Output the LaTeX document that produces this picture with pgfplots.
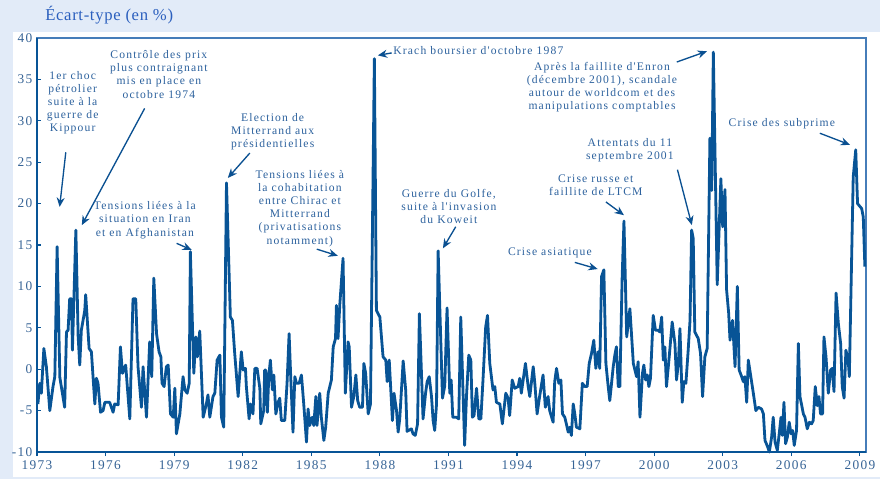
\documentclass[border=0pt]{standalone}
\usepackage{fontspec}
\setmainfont{Liberation Serif}
\newfontfamily\annfont[LetterSpace=10]{Liberation Serif}
\newfontfamily\titlefam[LetterSpace=4]{Liberation Serif}
\usepackage{pgfplots}
\pgfplotsset{compat=1.18}
\usetikzlibrary{arrows.meta}
\definecolor{bgblue}{RGB}{226,235,248}
\definecolor{lineblue}{RGB}{8,84,150}
\definecolor{textblue}{RGB}{45,98,158}
\definecolor{tickblue}{RGB}{55,100,150}
\definecolor{titleblue}{RGB}{43,95,190}
\definecolor{frameblue}{RGB}{70,125,185}
\definecolor{arrowblue}{RGB}{10,80,145}
\pgfplotstableread{
x y
1973.04 -4.2
1973.12 -1.7
1973.19 -2.9
1973.30 2.5
1973.41 0.3
1973.56 -5.0
1973.70 -2.1
1973.78 -0.9
1973.88 14.8
1974.00 -1.0
1974.21 -4.6
1974.29 4.5
1974.36 4.7
1974.43 8.5
1974.51 8.5
1974.55 2.3
1974.70 16.8
1974.80 4.0
1974.87 0.5
1974.94 4.7
1975.09 7.1
1975.13 9.0
1975.28 2.5
1975.38 2.1
1975.53 -4.2
1975.60 -1.1
1975.67 -1.7
1975.78 -5.2
1975.89 -5.0
1975.97 -4.0
1976.18 -4.0
1976.33 -5.2
1976.40 -4.2
1976.55 -4.3
1976.65 2.7
1976.74 -0.5
1976.88 0.5
1977.06 -6.0
1977.20 8.5
1977.32 8.5
1977.42 0.3
1977.57 -4.6
1977.64 0.3
1977.79 -5.8
1977.93 3.3
1978.02 -0.9
1978.11 11.0
1978.23 4.3
1978.34 2.1
1978.42 1.5
1978.47 -1.7
1978.56 -2.1
1978.66 0.3
1978.74 0.5
1978.84 -5.4
1978.96 -5.8
1979.03 -2.3
1979.10 -7.8
1979.25 -5.4
1979.39 -0.9
1979.47 -2.5
1979.57 -2.9
1979.66 -1.7
1979.71 14.2
1979.86 -0.5
1979.95 3.9
1980.02 1.5
1980.12 4.6
1980.27 -5.8
1980.41 -4.2
1980.48 -3.1
1980.56 -5.8
1980.70 -3.3
1980.78 -2.9
1980.88 1.1
1981.00 1.7
1981.07 -5.8
1981.17 -7.0
1981.29 22.5
1981.46 6.3
1981.55 5.9
1981.65 1.9
1981.80 -3.3
1981.94 2.1
1982.02 -0.1
1982.12 0.1
1982.16 -2.1
1982.28 -6.0
1982.34 -4.2
1982.45 -5.4
1982.53 0.1
1982.63 0.1
1982.75 -2.3
1982.79 -6.6
1982.92 -5.0
1982.96 -0.1
1983.01 -0.1
1983.08 -5.2
1983.14 -0.9
1983.21 1.1
1983.30 -2.5
1983.36 -0.7
1983.45 -5.4
1983.55 -4.0
1983.62 -3.5
1983.69 -6.2
1983.84 -6.2
1983.94 -1.7
1984.03 4.3
1984.10 -0.9
1984.20 -7.6
1984.28 -0.9
1984.35 -1.7
1984.47 -1.7
1984.57 -0.7
1984.67 -4.2
1984.79 -8.8
1984.86 -4.8
1984.93 -6.8
1985.04 -5.8
1985.11 -6.8
1985.20 -3.3
1985.25 -6.8
1985.37 -2.9
1985.44 -5.8
1985.55 -8.6
1985.63 -7.0
1985.74 -2.9
1985.88 -1.3
1985.96 2.7
1986.06 3.7
1986.10 7.7
1986.17 3.7
1986.25 7.9
1986.39 13.4
1986.49 -2.9
1986.61 3.3
1986.66 2.7
1986.76 -4.6
1986.86 -3.3
1986.95 -0.7
1987.03 -3.8
1987.12 -4.6
1987.24 -4.6
1987.30 0.7
1987.38 -0.5
1987.49 -5.4
1987.59 -4.2
1987.76 37.5
1987.85 7.1
1988.00 6.3
1988.14 1.5
1988.26 1.1
1988.32 -1.5
1988.41 1.1
1988.55 -6.2
1988.62 -2.9
1988.73 -5.0
1988.80 -7.6
1988.87 -6.0
1989.02 1.0
1989.13 -2.5
1989.19 -7.5
1989.38 -7.2
1989.45 -7.8
1989.55 -8.0
1989.65 -6.6
1989.73 6.7
1989.89 -6.0
1990.00 -2.9
1990.07 -1.5
1990.16 -0.9
1990.26 -3.3
1990.33 -6.2
1990.40 -7.4
1990.48 -4.2
1990.55 14.3
1990.74 -3.5
1990.84 -2.0
1990.94 7.4
1991.06 -2.9
1991.12 -1.3
1991.19 -5.8
1991.35 -5.8
1991.45 -6.0
1991.54 6.3
1991.71 -9.2
1991.79 -3.3
1991.89 1.7
1991.98 1.1
1992.05 -5.8
1992.12 -5.6
1992.23 -2.3
1992.33 -6.0
1992.42 -6.0
1992.52 -0.9
1992.63 5.1
1992.71 6.5
1992.81 0.7
1992.95 -2.5
1993.03 -2.1
1993.10 -4.0
1993.25 -4.2
1993.36 -6.6
1993.51 -2.9
1993.61 -3.5
1993.68 -5.6
1993.79 -1.3
1993.90 -2.3
1994.05 -2.1
1994.12 -1.1
1994.19 -2.9
1994.37 0.7
1994.49 -2.1
1994.56 -3.3
1994.71 0.3
1994.78 -1.7
1994.88 -5.4
1994.99 -3.3
1995.14 -0.7
1995.24 -4.6
1995.36 -3.3
1995.43 -5.0
1995.58 -6.4
1995.65 -1.5
1995.73 0.1
1995.83 -1.7
1995.92 -1.3
1995.99 -5.4
1996.09 -5.8
1996.16 -6.6
1996.24 -7.6
1996.31 -7.0
1996.38 -8.0
1996.46 -4.2
1996.53 -5.4
1996.60 -7.0
1996.75 -7.2
1996.86 -1.7
1996.97 -2.1
1997.07 -2.1
1997.16 0.7
1997.26 1.9
1997.36 3.5
1997.45 0.1
1997.55 2.1
1997.62 0.1
1997.70 11.2
1997.80 12.0
1997.89 0.7
1997.99 -2.1
1998.06 -3.8
1998.21 0.3
1998.28 1.7
1998.35 2.7
1998.43 -2.1
1998.50 -2.1
1998.60 11.0
1998.68 17.9
1998.80 3.9
1998.94 7.3
1999.09 0.7
1999.23 -0.9
1999.30 0.9
1999.38 -5.8
1999.49 -0.5
1999.55 0.5
1999.63 -1.3
1999.70 -0.7
1999.77 -2.1
1999.84 -1.1
1999.96 6.5
2000.06 4.7
2000.18 4.7
2000.25 4.5
2000.33 6.3
2000.40 1.1
2000.47 2.7
2000.54 -2.1
2000.66 1.5
2000.79 5.7
2000.91 3.1
2000.98 -1.3
2001.06 0.7
2001.13 4.9
2001.23 -4.0
2001.30 -1.5
2001.39 -1.7
2001.49 2.3
2001.57 5.9
2001.64 16.8
2001.71 15.8
2001.78 4.5
2001.93 3.7
2002.03 1.9
2002.12 -3.3
2002.22 1.5
2002.32 2.5
2002.44 27.9
2002.52 21.6
2002.59 38.3
2002.76 10.2
2002.92 23.0
2003.00 17.2
2003.10 21.7
2003.17 9.6
2003.26 6.8
2003.32 3.5
2003.43 5.9
2003.54 0.3
2003.64 10.0
2003.72 -0.1
2003.83 -0.9
2003.90 -1.5
2003.97 -0.9
2004.05 -4.0
2004.12 1.1
2004.22 -0.7
2004.34 -2.9
2004.45 -5.0
2004.56 -4.6
2004.70 -4.8
2004.78 -5.4
2004.85 -8.6
2004.97 -9.4
2005.04 -10.0
2005.14 -8.2
2005.21 -5.8
2005.29 -8.8
2005.39 -9.8
2005.48 -7.6
2005.55 -5.8
2005.61 -8.0
2005.68 -4.0
2005.75 -9.0
2005.83 -8.2
2005.91 -6.4
2005.99 -7.8
2006.06 -7.4
2006.13 -9.2
2006.23 -7.4
2006.31 3.1
2006.38 -3.3
2006.53 -5.4
2006.60 -5.8
2006.70 -7.2
2006.79 -6.4
2006.89 -6.6
2006.96 -6.2
2007.05 -2.1
2007.14 -4.4
2007.21 -3.3
2007.28 -5.4
2007.37 -5.4
2007.43 3.9
2007.52 1.5
2007.62 -2.9
2007.72 -0.1
2007.79 0.1
2007.87 -2.7
2007.96 9.2
2008.06 5.5
2008.16 3.1
2008.23 -2.1
2008.31 -3.5
2008.39 2.3
2008.49 1.1
2008.54 -0.9
2008.71 23.2
2008.82 26.5
2008.90 20.0
2009.08 19.4
2009.15 18.4
2009.22 12.4
}\ecart
\begin{document}
\begin{tikzpicture}
\path[use as bounding box, fill=bgblue] (-27.75pt,-20.25pt) rectangle (632.25pt,339pt);
\fill[white] (-18pt,-18.75pt) rectangle (632.25pt,315pt);
\node[anchor=base west, inner sep=0pt, text=titleblue, font=\titlefam\fontsize{12.5}{14}\selectfont] at (6pt,323.25pt) {Écart-type (en \%)};
\begin{axis}[
  at={(0pt,0pt)}, anchor=south west,
  scale only axis, width=621.75pt, height=310.5pt,
  xmin=1973, xmax=2009.27, ymin=-10, ymax=40,
  xtick={1973,1976,1979,1982,1985,1988,1991,1994,1997,2000,2003,2006,2009},
  ytick={-10,-5,0,5,10,15,20,25,30,35,40},
  xtick pos=bottom, ytick pos=left,
  xtick align=outside, ytick align=inside,
  major tick length=3pt,
  tick style={draw=lineblue, line width=0.8pt},
  /pgf/number format/assume math mode=true,
  xticklabel style={/pgf/number format/1000 sep={}},
  ticklabel style={font=\annfont\fontsize{10}{12}\selectfont, text=tickblue},
  axis line style={draw=frameblue, line width=0.8pt},
  clip=false,
]
\addplot[lineblue, line width=2.1pt, line join=round] table[x=x,y=y] {\ecart};
\draw[lineblue, line width=1.5pt] (rel axis cs:0,1) -- (rel axis cs:0,0) -- (rel axis cs:1,0);
\tikzset{ann/.style={align=center, text=textblue, inner sep=0pt, font=\annfont\fontsize{8.7}{9.8}\selectfont},
  arr/.style={arrowblue, line width=1pt, -{Stealth[length=7pt,width=6pt]}}}
\node[ann] at (axis cs:1974.56,32.15) {1er choc\\pétrolier\\suite à la\\guerre de\\Kippour};
\draw[arr] (axis cs:1974.26,26.2) -- (axis cs:1973.99,19.6);
\node[ann] at (axis cs:1978.33,35.6) {Contrôle des prix\\plus contraignant\\mis en place en\\octobre 1974};
\draw[arr] (axis cs:1977.71,31.5) -- (axis cs:1974.96,17.4);
\node[ann] at (axis cs:1977.72,18.0) {Tensions liées à la\\situation en Iran\\et en Afghanistan};
\draw[arr] (axis cs:1979.11,15.2) -- (axis cs:1979.77,14.4);
\node[ann] at (axis cs:1983.31,28.65) {Election de\\Mitterrand aux\\présidentielles};
\draw[arr] (axis cs:1982.31,26.1) -- (axis cs:1981.35,23.1);
\node[ann] at (axis cs:1984.50,19.4) {Tensions liées à\\la cohabitation\\entre Chirac et\\Mitterrand\\(privatisations\\notamment)};
\draw[arr] (axis cs:1985.24,14.5) -- (axis cs:1986.16,13.7);
\node[ann, anchor=west] at (axis cs:1988.58,38.5) {Krach boursier d'octobre 1987};
\draw[arr] (axis cs:1988.52,38.2) -- (axis cs:1987.91,37.9);
\node[ann] at (axis cs:1997.72,34.1) {Après la faillite d'Enron\\(décembre 2001), scandale\\autour de worldcom et des\\manipulations comptables};
\draw[arr] (axis cs:2000.99,37.1) -- (axis cs:2002.31,38.4);
\node[ann] at (axis cs:1998.94,26.4) {Attentats du 11\\septembre 2001};
\draw[arr] (axis cs:2001.02,24.1) -- (axis cs:2001.65,17.4);
\node[ann] at (axis cs:1997.45,22.25) {Crise russe et\\faillite de LTCM};
\draw[arr] (axis cs:1997.89,20.2) -- (axis cs:1998.68,18.6);
\node[ann] at (axis cs:1995.44,14.0) {Crise asiatique};
\draw[arr] (axis cs:1996.53,12.9) -- (axis cs:1997.53,12.1);
\node[ann] at (axis cs:1991.02,19.7) {Guerre du Golfe,\\suite à l'invasion\\du Koweit};
\draw[arr] (axis cs:1991.32,17.2) -- (axis cs:1990.76,14.6);
\node[ann] at (axis cs:2005.59,29.7) {Crise des subprime};
\draw[arr] (axis cs:2007.25,28.5) -- (axis cs:2008.57,27.1);
\end{axis}
\end{tikzpicture}
\end{document}
